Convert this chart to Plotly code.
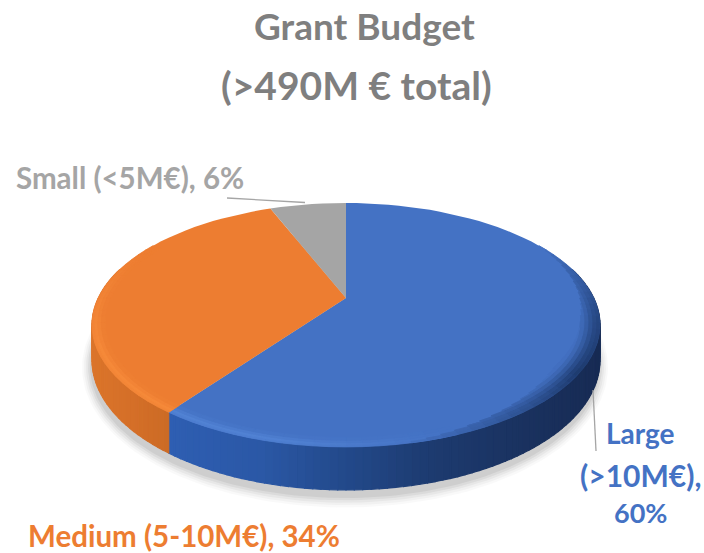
import numpy as np
import plotly.graph_objects as go

# ---- data
categories = ["Large", "Medium", "Small"]
shares = [60, 34, 6]
slice_colors = ["#4472C4", "#ED7D31", "#A5A5A5"]
title_lines = ["Grant Budget", "(>490M € total)"]
large_label = ["Large", "(>10M€),", "60%"]
medium_label = "Medium (5-10M€), 34%"
small_label = "Small (&lt;5M€), 6%"

W, H = 704, 553
# perspective of the tilted disc (screen pixels)
CX, CY, R, K, C, T = 346.0, 298.0, 247.7, 116.0, -0.221, 33.5


def project(theta_deg, r=1.0, drop=0.0):
    t = np.radians(theta_deg)
    u, v = r * np.sin(t), -r * np.cos(t)
    d = 1 + C * v
    return CX + R * u / d, CY + K * v / d + drop / d


def rgb(h):
    return np.array([int(h[i:i + 2], 16) for i in (1, 3, 5)], float)


def css(c):
    return "rgb(%d,%d,%d)" % tuple(np.round(c))


def mix(a, b, f):
    return css(rgb(a) * (1 - f) + rgb(b) * f)


def ramp(stops, x):
    xs = [s[0] for s in stops]
    return css([np.interp(x, xs, [rgb(s[1])[i] for s in stops]) for i in range(3)])


fig = go.Figure()


def poly(xs, ys, color, opacity=1.0, lw=0.0):
    fig.add_trace(go.Scatter(
        x=list(xs) + [xs[0]], y=list(ys) + [ys[0]], mode="lines", fill="toself",
        fillcolor=color, line=dict(color=color, width=lw), opacity=opacity,
        hoverinfo="skip", showlegend=False))


edges = np.cumsum([0] + shares) / sum(shares) * 360
th_all = np.linspace(0, 360, 241)

# soft shadow
for grow, op in [(9, .025), (7, .03), (5, .04), (3, .05), (1, .06)]:
    x, y = project(th_all, 1.0, T + 3)
    sx = CX + (x - CX) * (1 + grow / 254) - 1
    sy = 345 + (y - 345) * (1 + grow / 125) + 3
    poly(sx, sy, "#000000", op)

# side wall
blue_side = [(170, "#2E5EB2"), (260, "#2B58A6"), (340, "#234A8C"), (430, "#1D3B70"),
             (520, "#1A3260"), (610, "#172A52")]
orange_side = [(90, "#DB752B"), (130, "#D56F28"), (180, "#C96A24")]
grey_side = [(200, "#8A8A8A"), (350, "#8A8A8A")]
side_ramps = [blue_side, orange_side, grey_side]
for s in range(3):
    a = np.arange(edges[s], edges[s + 1], 1.5)
    a = np.append(a, edges[s + 1])
    for a0, a1 in zip(a[:-1], a[1:]):
        if np.cos(np.radians((a0 + a1) / 2)) > 0.25:
            continue
        x0, y0 = project(a0)
        x1, y1 = project(a1)
        x2, y2 = project(a1, 1.0, T)
        x3, y3 = project(a0, 1.0, T)
        poly([x0, x1, x2, x3], [y0, y1, y2, y3], ramp(side_ramps[s], (x0 + x1) / 2), lw=1.2)

# top face with a soft bevel towards the rim on the front left
bevel_light = ["#5B8FE0", "#FB9240", "#A5A5A5"]
rings = [(1.0, 0.25), (0.99, 0.6), (0.978, 0.5), (0.965, 0.2), (0.95, 0.0)]
bevel_spans = [(160, 216), (216, 300), (0, 0)]
for s in range(3):
    a = np.arange(edges[s], edges[s + 1], 3.0)
    a = np.append(a, edges[s + 1])
    xs, ys = project(a, 1.0)
    poly([CX] + list(xs), [CY] + list(ys), slice_colors[s])
    lo, hi = bevel_spans[s]
    if hi == lo:
        continue
    for (r0, f0), (r1, f1) in zip(rings[:-1], rings[1:]):
        for a0, a1 in zip(a[:-1], a[1:]):
            m = (a0 + a1) / 2
            if not lo <= m <= hi:
                continue
            strength = (m - lo) / (hi - lo) if s == 0 else (hi - m) / (hi - lo)
            strength = min(1.0, strength * 1.6)
            x0, y0 = project(a0, r0)
            x1, y1 = project(a1, r0)
            x2, y2 = project(a1, r1)
            x3, y3 = project(a0, r1)
            c = mix(slice_colors[s], bevel_light[s], (f0 + f1) / 2 * strength)
            poly([x0, x1, x2, x3], [y0, y1, y2, y3], c, lw=0.8)

# dark soft rim on the front right of the large slice
dark_rings = [(1.0, 1.0), (0.985, 0.95), (0.97, 0.8), (0.955, 0.55), (0.94, 0.3), (0.925, 0.1), (0.91, 0.0)]
a = np.arange(60.0, 170.0, 3.0)
for (r0, f0), (r1, f1) in zip(dark_rings[:-1], dark_rings[1:]):
    for a0, a1 in zip(a[:-1], a[1:]):
        m = (a0 + a1) / 2
        w = np.interp(m, [60, 100, 125, 170], [0, .8, 1, 0])
        # the band narrows away from its peak
        inner_limit = 1 - 0.09 * w
        if r0 <= inner_limit:
            continue
        x0, y0 = project(a0, r0)
        x1, y1 = project(a1, r0)
        x2, y2 = project(a1, max(r1, inner_limit))
        x3, y3 = project(a0, max(r1, inner_limit))
        poly([x0, x1, x2, x3], [y0, y1, y2, y3],
             mix("#4472C4", "#1D3A6E", (f0 + f1) / 2 * w), lw=0.8)

# leader lines
fig.add_trace(go.Scatter(x=[227, 305], y=[198, 202.5], mode="lines",
                         line=dict(color="#A5A5A5", width=1.3), hoverinfo="skip", showlegend=False))
fig.add_trace(go.Scatter(x=[593, 596], y=[390, 451], mode="lines",
                         line=dict(color="#A5A5A5", width=1.3), hoverinfo="skip", showlegend=False))

FONT = "Lato"


def label(text, x, y, size, color):
    fig.add_annotation(x=x, y=y, text="<b>%s</b>" % text, showarrow=False,
                       xanchor="center", yanchor="middle",
                       font=dict(family=FONT, size=size, color=color))


label(title_lines[0], 364, 25, 37, "#7F7F7F")
label(title_lines[1], 356, 85, 39, "#7F7F7F")
label(small_label, 130, 177, 29.5, "#A5A5A5")
label(large_label[0], 640, 433, 28, "#4472C4")
label(large_label[1], 640, 475, 30, "#4472C4")
label(large_label[2], 640, 512, 27, "#4472C4")
label(medium_label, 184, 535, 29.5, "#ED7D31")

fig.update_layout(
    width=W, height=H, margin=dict(l=0, r=0, t=0, b=0),
    paper_bgcolor="white", plot_bgcolor="white", showlegend=False,
    xaxis=dict(range=[0, W], visible=False, fixedrange=True),
    yaxis=dict(range=[H, 0], visible=False, fixedrange=True),
)
fig.write_html("out.html", config={"displayModeBar": False},
               post_script="document.body.style.margin='0';document.documentElement.style.overflow='hidden';")
